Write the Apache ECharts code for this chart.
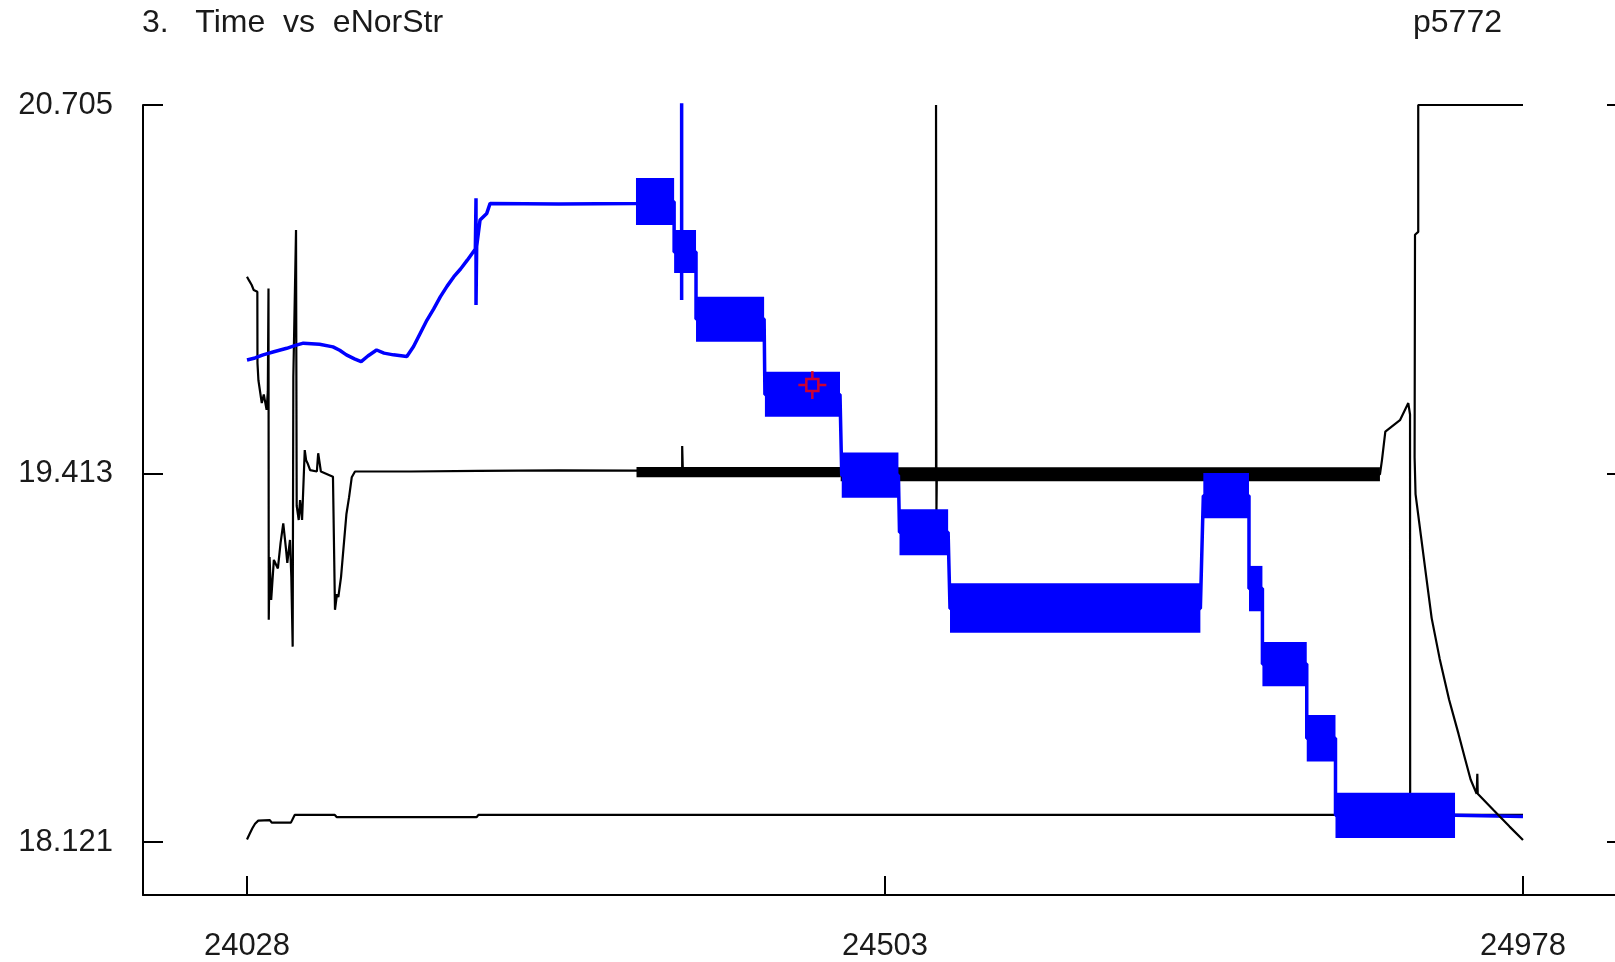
<!DOCTYPE html>
<html>
<head>
<meta charset="utf-8">
<script src="https://cdn.jsdelivr.net/npm/echarts@6/dist/echarts.min.js"></script>
<style>
  html, body { margin: 0; padding: 0; background: #fff; }
  #chart { width: 1615px; height: 962px; }
</style>
</head>
<body>
<div id="chart"></div>
<script>
// tick values / labels
const xTicks = [24028, 24503, 24978];
const yTicks = [18.121, 19.413, 20.705];

// main black trace (time, eNorStr)
const blackMain = [
  [24028, 20.103], [24029.5, 20.09], [24031.5, 20.074], [24033, 20.056], [24035.7, 20.05],
  [24035.8, 19.80], [24036.5, 19.74], [24037.7, 19.74], [24039, 19.66], [24040.5, 19.69],
  [24042.6, 19.636], [24043.5, 19.70], [24044, 20.062], [24044.2, 18.90], [24044.8, 19.12],
  [24046, 18.97], [24048, 19.11], [24051, 19.08], [24053, 19.17], [24055, 19.238],
  [24057, 19.15], [24058, 19.10], [24060, 19.18], [24061, 19.05], [24062, 18.806],
  [24062.5, 19.752], [24063.5, 19.75], [24064.5, 20.267], [24065, 19.30], [24066.5, 19.25],
  [24067.5, 19.32], [24069, 19.25], [24071, 19.495], [24072, 19.46], [24073, 19.45],
  [24075, 19.425], [24080, 19.42], [24081, 19.484], [24083, 19.42], [24092, 19.402],
  [24093.5, 18.935], [24095, 18.99], [24096, 18.98], [24098, 19.05], [24100, 19.16],
  [24102, 19.27], [24104, 19.33], [24106, 19.40], [24108.4, 19.42], [24150, 19.42],
  [24200, 19.422], [24260, 19.424], [24318, 19.423], [24352, 19.42], [24352, 19.509],
  [24352.5, 19.42], [24541, 19.41], [24541, 20.705], [24541.3, 19.28], [24541.6, 19.41],
  [24871.5, 19.41], [24873, 19.46], [24875.5, 19.56], [24886.4, 19.60], [24892.6, 19.66],
  [24893.9, 19.62], [24894, 18.30], [24893.3, 18.21]
];
// thick noisy part of black trace: [x0, x1, yLow, yHigh]
const blackBand = [
  [24318, 24470, 19.400, 19.436],
  [24470, 24871.5, 19.386, 19.435]
];
const blackBottom = [
  [24028, 18.13], [24030, 18.15], [24032, 18.169], [24034, 18.185], [24036.4, 18.196],
  [24045, 18.198], [24046.4, 18.189], [24060.7, 18.189], [24063.5, 18.216], [24093.4, 18.216],
  [24094.9, 18.208], [24198.9, 18.208], [24200.3, 18.216], [24978, 18.216]
];
const blackDecay = [
  [24978, 20.705], [24900, 20.705], [24900, 20.26], [24897.6, 20.25], [24897.3, 19.47],
  [24898, 19.341], [24902, 19.195], [24906, 19.05], [24910, 18.906], [24916, 18.763],
  [24923, 18.62], [24930, 18.5], [24935, 18.41], [24939, 18.34], [24943.5, 18.29],
  [24944, 18.36], [24944.3, 18.29], [24956, 18.233], [24968, 18.175], [24978, 18.128]
];

// blue trace
const blueTrace = [
  [24028, 19.811], [24034, 19.818], [24040, 19.829], [24048, 19.84], [24057.6, 19.852],
  [24064, 19.862], [24070, 19.87], [24076, 19.868], [24082, 19.866], [24092, 19.857],
  [24097, 19.845], [24102, 19.829], [24108, 19.815], [24113, 19.805], [24118, 19.825],
  [24124.5, 19.846], [24130, 19.835], [24137, 19.829], [24147, 19.823], [24152, 19.858],
  [24157, 19.905], [24162, 19.951], [24167, 19.99], [24172, 20.033], [24177, 20.07],
  [24182, 20.103], [24187, 20.13], [24192, 20.161], [24198, 20.2], [24198.5, 20.378],
  [24198.5, 20.004], [24199, 20.21], [24201.5, 20.302], [24206.5, 20.325], [24209, 20.36],
  [24260, 20.358], [24317.6, 20.36], [24317.6, 20.366], [24346, 20.366], [24346, 20.19],
  [24351.6, 20.19], [24351.6, 20.72], [24351.6, 20.021], [24351.6, 20.19], [24362.3, 20.19],
  [24362.3, 19.955], [24413, 19.955], [24413.6, 19.69], [24469.5, 19.69], [24470.8, 19.407],
  [24513, 19.407], [24513.8, 19.207], [24550, 19.207], [24551.4, 18.94], [24737.8, 18.94],
  [24740, 19.335], [24774, 19.335], [24774, 19.01], [24784, 19.01], [24784, 18.745],
  [24817, 18.745], [24817, 18.485], [24838.4, 18.485], [24838.4, 18.215], [24927.4, 18.215],
  [24978, 18.21]
];
// noisy blocks of blue trace: [x0, x1, yLow, yHigh]
const blueBlocks = [
  [24317.6, 24346, 20.284, 20.449],
  [24346, 24362.3, 20.116, 20.267],
  [24362.3, 24413, 19.875, 20.033],
  [24413.6, 24469.5, 19.612, 19.77],
  [24470.8, 24513, 19.328, 19.487],
  [24513.8, 24550, 19.126, 19.288],
  [24551.4, 24737.8, 18.855, 19.028],
  [24740, 24774, 19.256, 19.415],
  [24774, 24784, 18.93, 19.089],
  [24784, 24817, 18.667, 18.822],
  [24817, 24838.4, 18.403, 18.566],
  [24838.4, 24927.4, 18.135, 18.294]
];
const cursor = [[24448.9, 19.723]];

const FONT = "'Liberation Sans', Arial, Helvetica, sans-serif";
// plot spans x = 143..1615 px, 1.3432 px per time unit
const xMin = 24028 - 77.43, xMax = 24978 + 68.5;
const yMin = 17.9352, yMax = 20.705;

function rectItem(color) {
  return function (params, api) {
    const p0 = api.coord([api.value(0), api.value(3)]);
    const p1 = api.coord([api.value(1), api.value(2)]);
    return {
      type: 'rect',
      shape: { x: p0[0], y: p0[1], width: p1[0] - p0[0], height: p1[1] - p0[1] },
      style: { fill: color }
    };
  };
}

const chart = echarts.init(document.getElementById('chart'));
const lineBase = { type: 'line', showSymbol: false, symbol: 'none', animation: false };

chart.setOption({
  animation: false,
  backgroundColor: '#fff',
  textStyle: { fontFamily: FONT },
  graphic: [
    { type: 'text', left: 142, top: 7, style: { text: '3.   Time  vs  eNorStr', font: '32px ' + FONT, fill: '#1a1a1a' } },
    { type: 'text', left: 1413, top: 7, style: { text: 'p5772', font: '32px ' + FONT, fill: '#1a1a1a' } }
  ],
  grid: { left: 143, top: 105, right: 0, bottom: 67, containLabel: false },
  xAxis: {
    type: 'value', min: xMin, max: xMax,
    axisLine: { show: true, lineStyle: { color: '#000', width: 2 } },
    axisTick: { show: true, inside: true, length: 19, customValues: xTicks, lineStyle: { color: '#000', width: 2 } },
    axisLabel: { customValues: xTicks, margin: 36, fontSize: 31, color: '#1a1a1a', fontFamily: FONT,
      formatter: v => String(Math.round(v)) },
    splitLine: { show: false }
  },
  yAxis: [{
    type: 'value', min: yMin, max: yMax, position: 'left',
    axisLine: { show: true, lineStyle: { color: '#000', width: 2 } },
    axisTick: { show: true, inside: true, length: 20, customValues: yTicks, lineStyle: { color: '#000', width: 2 } },
    axisLabel: { customValues: yTicks, margin: 30, fontSize: 31, color: '#1a1a1a', fontFamily: FONT,
      formatter: v => v.toFixed(3) },
    splitLine: { show: false }
  }, {
    type: 'value', min: yMin, max: yMax, position: 'right',
    axisLine: { show: false },
    axisTick: { show: true, inside: true, length: 8, customValues: yTicks, lineStyle: { color: '#000', width: 2 } },
    axisLabel: { show: false },
    splitLine: { show: false }
  }],
  series: [
    Object.assign({}, lineBase, { data: blackMain, lineStyle: { color: '#000', width: 2.2 }, z: 2 }),
    { type: 'custom', renderItem: rectItem('#000'), data: blackBand, encode: { x: [0, 1], y: [2, 3] }, z: 2, animation: false },
    Object.assign({}, lineBase, { data: blackBottom, lineStyle: { color: '#000', width: 2.2 }, z: 2 }),
    { type: 'custom', renderItem: rectItem('#0000ff'), data: blueBlocks, encode: { x: [0, 1], y: [2, 3] }, z: 3, animation: false },
    Object.assign({}, lineBase, { data: blueTrace, lineStyle: { color: '#0000ff', width: 3.5 }, z: 3 }),
    Object.assign({}, lineBase, { data: blackDecay, lineStyle: { color: '#000', width: 2.2 }, z: 4 }),
    {
      type: 'scatter', data: cursor, z: 5, animation: false,
      symbol: 'path://M-6,-6 L6,-6 L6,6 L-6,6 Z M-14,0 L-6,0 M6,0 L14,0 M0,-14 L0,-6 M0,6 L0,14',
      symbolSize: 28,
      itemStyle: { color: 'rgba(0,0,0,0)', borderColor: '#ff0000', borderWidth: 2.5 }
    }
  ]
});
</script>
</body>
</html>
